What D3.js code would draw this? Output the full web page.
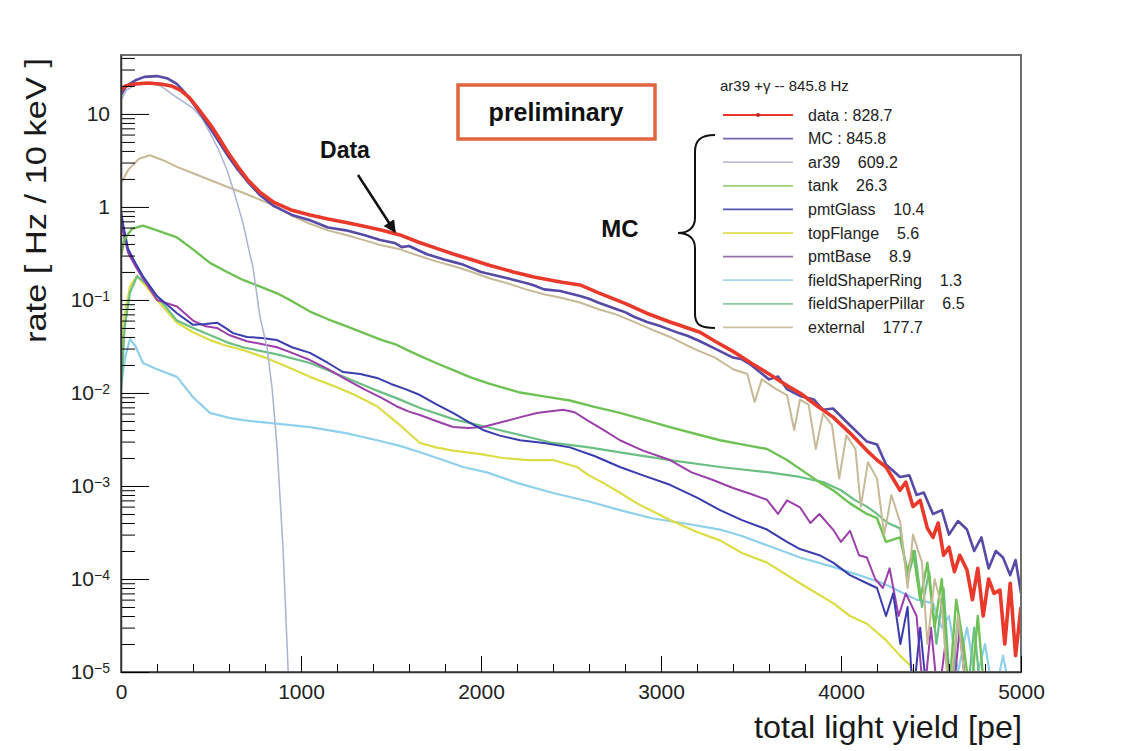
<!DOCTYPE html>
<html lang="en">
<head>
  <meta charset="UTF-8" />
  <script src="https://d3js.org/d3.v7.min.js"></script>
  <title>total light yield spectrum</title>
  <style>
    body { margin: 0; background: #fff; }
    text { font-family: "Liberation Sans", Arial, Helvetica, sans-serif; }
  </style>
</head>
<body>
  <div id="chart"></div>
  <script>
    // [pe, rate in Hz / 10 keV]
    const dataHist = [[0,18],[25,20],[75,21],[150,21.5],[220,21],[280,20],[330,18],[380,15],[420,12],[460,9.5],[500,7.5],[550,5.3],[600,3.7],[650,2.7],[700,2.0],[770,1.45],[850,1.12],[950,0.92],[1050,0.82],[1150,0.74],[1250,0.68],[1350,0.62],[1450,0.56],[1550,0.5],[1650,0.42],[1770,0.35],[1850,0.31],[1950,0.27],[2050,0.235],[2180,0.2],[2300,0.175],[2450,0.155],[2550,0.145],[2650,0.12],[2800,0.092],[2920,0.072],[3050,0.058],[3217,0.045],[3300,0.036],[3400,0.028],[3500,0.021],[3600,0.016],[3700,0.012],[3772,0.01],[3870,0.0072],[3956,0.0055],[4050,0.0037],[4144,0.0024],[4200,0.0019],[4250,0.0016],[4328,0.0009],[4360,0.0011],[4400,0.0006],[4440,0.0007],[4480,0.00035],[4511,0.00028],[4540,0.0004],[4570,0.00018],[4600,0.00022],[4630,0.00012],[4660,0.00018],[4700,0.000125],[4730,0.00006],[4760,0.00013],[4790,0.00004],[4820,0.0001],[4850,0.00007],[4883,0.000076],[4910,0.00002],[4940,0.00009],[4970,0.000015],[5000,0.00005]];
    const mcTotal = [[0,16],[30,20],[80,23],[130,25],[200,25.5],[260,24],[310,21],[360,16.5],[400,13],[450,9.5],[500,6.8],[550,4.8],[600,3.4],[650,2.5],[700,1.9],[770,1.35],[850,1.02],[950,0.82],[1050,0.72],[1150,0.6],[1250,0.56],[1350,0.5],[1440,0.44],[1520,0.41],[1560,0.37],[1600,0.38],[1700,0.31],[1800,0.27],[1850,0.255],[1900,0.24],[2000,0.2],[2100,0.18],[2178,0.165],[2260,0.15],[2300,0.142],[2350,0.13],[2440,0.125],[2550,0.11],[2600,0.103],[2650,0.094],[2750,0.08],[2800,0.074],[2850,0.066],[2922,0.058],[3000,0.052],[3100,0.044],[3150,0.041],[3217,0.036],[3300,0.03],[3400,0.024],[3450,0.023],[3500,0.02],[3600,0.014],[3650,0.015],[3700,0.011],[3772,0.0093],[3850,0.0085],[3900,0.0066],[3956,0.0068],[4050,0.0045],[4144,0.003],[4200,0.0028],[4250,0.0017],[4328,0.00125],[4380,0.0013],[4420,0.0008],[4460,0.00085],[4511,0.0005],[4560,0.00055],[4600,0.0003],[4650,0.00042],[4700,0.00034],[4740,0.0002],[4780,0.00028],[4820,0.00013],[4860,0.0002],[4900,0.00017],[4940,0.00011],[4970,0.00016],[5000,0.00007]];
    const ar39 = [[0,14],[30,18],[80,20.5],[150,21.5],[220,20],[311,15],[360,13],[400,11.5],[450,9],[494,6.3],[540,4.2],[589,2.5],[630,1.4],[678,0.67],[710,0.35],[733,0.226],[772,0.066],[811,0.031],[840,0.011],[867,0.0026],[900,0.00022],[928,0.000011],[935,0.000005]];
    const tank = [[0,0.3],[20,0.45],[60,0.58],[122,0.63],[200,0.56],[311,0.47],[400,0.35],[494,0.25],[589,0.2],[678,0.164],[770,0.14],[867,0.118],[950,0.097],[1050,0.075],[1150,0.062],[1233,0.054],[1350,0.044],[1450,0.037],[1530,0.033],[1606,0.028],[1661,0.025],[1750,0.021],[1850,0.0175],[1939,0.0148],[2050,0.0125],[2217,0.0101],[2350,0.0092],[2494,0.0083],[2630,0.0071],[2772,0.0061],[2900,0.0052],[3050,0.0043],[3200,0.0036],[3328,0.0031],[3450,0.0028],[3589,0.0025],[3700,0.0019],[3800,0.0014],[3880,0.0011],[3956,0.0009],[4050,0.00065],[4144,0.0005],[4200,0.00045],[4250,0.00025],[4328,0.00028],[4370,0.00012],[4400,0.0002],[4440,0.00006],[4480,0.00015],[4520,0.00003],[4560,0.0001],[4600,0.000006],[4640,0.00006],[4680,0.00002],[4720,0.000005],[4760,0.00004],[4800,0.000005]];
    const pmtGlass = [[0,0.9],[15,0.6],[40,0.35],[80,0.25],[122,0.18],[200,0.11],[311,0.072],[400,0.054],[470,0.055],[533,0.057],[580,0.05],[622,0.044],[700,0.04],[780,0.039],[867,0.037],[950,0.031],[1050,0.027],[1150,0.021],[1233,0.0168],[1330,0.016],[1422,0.0145],[1500,0.0125],[1580,0.011],[1661,0.0095],[1750,0.0076],[1844,0.0061],[1930,0.0049],[2011,0.004],[2100,0.0035],[2217,0.0031],[2350,0.0029],[2494,0.0026],[2630,0.0021],[2772,0.0016],[2900,0.0013],[3050,0.00103],[3200,0.00075],[3328,0.00055],[3450,0.00043],[3589,0.00034],[3700,0.00025],[3772,0.00021],[3880,0.00018],[3956,0.00015],[4050,0.00011],[4144,0.00009],[4200,0.00008],[4250,0.00004],[4290,0.00007],[4330,0.00002],[4370,0.00005],[4400,0.000005],[4440,0.00003],[4480,0.000005]];
    const topFlange = [[0,0.02],[20,0.07],[50,0.14],[89,0.18],[140,0.14],[200,0.1],[311,0.057],[400,0.045],[494,0.037],[589,0.032],[678,0.029],[800,0.024],[900,0.02],[1050,0.0149],[1200,0.0115],[1300,0.0095],[1422,0.0072],[1550,0.0045],[1661,0.0029],[1750,0.0026],[1844,0.0024],[2000,0.0022],[2122,0.002],[2260,0.0019],[2400,0.0019],[2533,0.0016],[2600,0.0013],[2678,0.00108],[2770,0.00085],[2867,0.00065],[3050,0.00043],[3200,0.00032],[3328,0.00026],[3450,0.00019],[3589,0.00015],[3772,0.00009],[3956,0.000055],[4050,0.00004],[4144,0.000033],[4250,0.000022],[4328,0.000015],[4380,0.000012],[4420,0.000008]];
    const pmtBase = [[0,0.7],[15,0.5],[40,0.32],[80,0.23],[122,0.17],[200,0.1],[311,0.085],[400,0.06],[470,0.052],[533,0.05],[600,0.042],[700,0.036],[800,0.033],[867,0.031],[950,0.027],[1050,0.0226],[1150,0.018],[1250,0.014],[1350,0.011],[1450,0.0088],[1530,0.0072],[1600,0.0063],[1661,0.0058],[1750,0.005],[1844,0.0043],[1930,0.0042],[2011,0.0043],[2122,0.0049],[2220,0.0055],[2311,0.0061],[2400,0.0064],[2456,0.0066],[2520,0.0062],[2589,0.0051],[2680,0.004],[2772,0.0031],[2900,0.0024],[3050,0.0019],[3170,0.0014],[3289,0.00116],[3400,0.00095],[3500,0.00082],[3589,0.00071],[3650,0.0005],[3700,0.0007],[3772,0.00059],[3830,0.0004],[3880,0.0005],[3956,0.00034],[4000,0.00025],[4050,0.00033],[4100,0.00018],[4144,0.00017],[4190,0.0001],[4233,0.00008],[4270,0.00013],[4320,0.00004],[4360,0.00007],[4420,0.00004],[4460,0.000005],[4500,0.00003],[4540,0.000005],[4580,0.00002],[4620,0.000005],[4660,0.00003],[4700,0.000005]];
    const fieldShaperRing = [[0,0.012],[25,0.025],[50,0.038],[80,0.032],[122,0.021],[200,0.018],[311,0.0149],[400,0.009],[494,0.0061],[600,0.0054],[678,0.0051],[850,0.0047],[1050,0.0043],[1250,0.0037],[1422,0.0031],[1550,0.0027],[1661,0.0023],[1789,0.0019],[1900,0.0016],[2033,0.0014],[2200,0.00108],[2400,0.00084],[2600,0.00068],[2772,0.00055],[2950,0.00045],[3150,0.00039],[3328,0.00034],[3450,0.00029],[3589,0.00023],[3772,0.00017],[3956,0.000135],[4100,0.00011],[4233,0.00009],[4350,0.00007],[4420,0.00006],[4511,0.000055],[4560,0.00003],[4600,0.00004],[4650,0.00001],[4700,0.00003],[4750,0.000008],[4800,0.00002],[4850,0.000005],[4900,0.000015],[4950,0.000005],[5000,0.00001]];
    const fieldShaperPillar = [[0,0.01],[20,0.05],[50,0.12],[89,0.18],[140,0.15],[200,0.11],[311,0.06],[400,0.05],[494,0.042],[589,0.035],[678,0.031],[867,0.026],[1050,0.021],[1200,0.016],[1400,0.011],[1530,0.0088],[1661,0.0069],[1850,0.0052],[2033,0.0043],[2200,0.0036],[2400,0.0029],[2600,0.0026],[2772,0.0023],[3050,0.0019],[3328,0.0016],[3600,0.0014],[3772,0.00125],[3900,0.0011],[4000,0.0009],[4080,0.0007],[4144,0.0006],[4200,0.0005],[4260,0.0004],[4328,0.00035],[4370,0.0001],[4410,0.0002],[4450,0.00005],[4490,0.00012],[4530,0.00002],[4570,0.00008],[4610,0.000005],[4650,0.00004],[4700,0.000005],[4740,0.00003],[4780,0.000005]];
    const external = [[0,1.8],[40,2.5],[100,3.3],[160,3.6],[230,3.2],[311,2.7],[400,2.3],[494,1.95],[589,1.65],[678,1.42],[770,1.2],[867,1.0],[950,0.8],[1050,0.66],[1150,0.56],[1250,0.5],[1350,0.44],[1440,0.39],[1550,0.35],[1650,0.3],[1750,0.26],[1850,0.23],[1950,0.2],[2050,0.17],[2150,0.15],[2250,0.13],[2350,0.115],[2450,0.105],[2550,0.094],[2650,0.08],[2750,0.07],[2850,0.058],[2950,0.048],[3050,0.04],[3150,0.032],[3217,0.028],[3300,0.024],[3400,0.018],[3480,0.016],[3520,0.008],[3560,0.014],[3640,0.011],[3700,0.0095],[3740,0.004],[3772,0.0085],[3820,0.0075],[3860,0.0025],[3900,0.006],[3950,0.0045],[3990,0.0012],[4030,0.0035],[4080,0.0025],[4110,0.0006],[4150,0.0018],[4200,0.0012],[4240,0.0003],[4280,0.0008],[4330,0.0004],[4370,0.00008],[4400,0.0003],[4450,0.00015],[4480,0.00002],[4520,0.0001],[4560,0.00005],[4600,0.000005],[4650,0.00004],[4700,0.000005]];

    const legendTitle = "ar39 +\u03b3 -- 845.8 Hz";
    const legendLabels = ["data : 828.7", "MC : 845.8", "ar39    609.2", "tank    26.3", "pmtGlass    10.4",
      "topFlange    5.6", "pmtBase    8.9", "fieldShaperRing    1.3", "fieldShaperPillar    6.5", "external    177.7"];
    const xTicks = [0, 1000, 2000, 3000, 4000, 5000];
    const yExponents = [-5, -4, -3, -2, -1, 0, 1];

    const width = 1126, height = 751;
    const margin = { top: 55, right: 105, bottom: 79, left: 121 };

    const svg = d3.select("#chart").append("svg")
      .attr("width", width)
      .attr("height", height);

    const x = d3.scaleLinear().domain([0, 5000]).range([margin.left, width - margin.right]);
    const y = d3.scaleLog().domain([1e-5, 43]).range([height - margin.bottom, margin.top]);

    svg.append("defs").append("clipPath").attr("id", "plot")
      .append("rect")
      .attr("x", margin.left).attr("y", margin.top)
      .attr("width", width - margin.left - margin.right)
      .attr("height", height - margin.top - margin.bottom);

    // series, back to front
    const series = [
      { pts: fieldShaperRing, color: "#8fd0ea", w: 2.2 },
      { pts: topFlange, color: "#dcdc46", w: 2.2 },
      { pts: fieldShaperPillar, color: "#6cbf84", w: 2.2 },
      { pts: pmtBase, color: "#9b3faa", w: 2 },
      { pts: pmtGlass, color: "#3a3cae", w: 2 },
      { pts: tank, color: "#6fc153", w: 2.4 },
      { pts: external, color: "#c6b996", w: 2 },
      { pts: ar39, color: "#a9b3d2", w: 1.5 },
      { pts: mcTotal, color: "#554aa6", w: 2.6 },
      { pts: dataHist, color: "#e8392a", w: 3.6 }
    ];

    const line = d3.line()
      .x(d => x(d[0]))
      .y(d => y(d[1]));

    const plot = svg.append("g").attr("clip-path", "url(#plot)");
    plot.selectAll("path")
      .data(series)
      .enter()
      .append("path")
      .attr("fill", "none")
      .attr("stroke", d => d.color)
      .attr("stroke-width", d => d.w)
      .attr("stroke-linejoin", "round")
      .attr("d", d => line(d.pts));

    // frame
    svg.append("rect")
      .attr("x", margin.left).attr("y", margin.top)
      .attr("width", width - margin.left - margin.right)
      .attr("height", height - margin.top - margin.bottom)
      .attr("fill", "none")
      .attr("stroke", "#6e6e6e")
      .attr("stroke-width", 2);

    // x axis
    const xMinor = d3.range(0, 5001, 200).filter(v => v % 1000 !== 0);
    svg.append("g")
      .attr("transform", `translate(0,${height - margin.bottom})`)
      .call(d3.axisBottom(x).tickValues(xMinor).tickSize(-8).tickFormat(""))
      .call(g => g.select(".domain").remove());
    const gx = svg.append("g")
      .attr("transform", `translate(0,${height - margin.bottom})`)
      .call(d3.axisBottom(x).tickValues(xTicks).tickSize(-16).tickPadding(12).tickSizeOuter(0).tickFormat(d3.format("d")));
    gx.select(".domain").attr("stroke", "#333").attr("stroke-width", 1.5);
    gx.selectAll("text").attr("font-size", 21).attr("fill", "#222")
      .attr("font-family", "'Liberation Sans', Arial, sans-serif");

    // y axis
    const yMinor = [];
    yExponents.forEach(e => {
      for (let m = 2; m <= 9; m++) {
        const v = m * Math.pow(10, e);
        if (v <= 43) yMinor.push(v);
      }
    });
    svg.append("g")
      .attr("transform", `translate(${margin.left},0)`)
      .call(d3.axisLeft(y).tickValues(yMinor).tickSize(-14).tickFormat(""))
      .call(g => g.select(".domain").remove());
    const gy = svg.append("g")
      .attr("transform", `translate(${margin.left},0)`)
      .call(d3.axisLeft(y).tickValues(yExponents.map(e => Math.pow(10, e))).tickSize(-28).tickPadding(11).tickSizeOuter(0).tickFormat(""));
    gy.select(".domain").attr("stroke", "#333").attr("stroke-width", 1.5);
    gy.selectAll(".tick text").each(function (d) {
      const e = Math.round(Math.log10(d));
      const t = d3.select(this)
        .attr("font-size", 21).attr("fill", "#222")
        .attr("font-family", "'Liberation Sans', Arial, sans-serif");
      if (e === 0) t.text("1");
      else if (e === 1) t.text("10");
      else {
        t.text("10");
        t.append("tspan").attr("dy", "-0.45em").attr("font-size", 14).text("\u2212" + (-e));
      }
    });

    // axis titles
    svg.append("text")
      .attr("x", width - margin.right + 1)
      .attr("y", 738)
      .attr("text-anchor", "end")
      .attr("font-size", 32)
      .attr("textLength", 268)
      .attr("lengthAdjust", "spacingAndGlyphs")
      .attr("fill", "#1a1a1a")
      .text("total light yield [pe]");

    svg.append("text")
      .attr("transform", "translate(46,58) rotate(-90)")
      .attr("text-anchor", "end")
      .attr("font-size", 29)
      .attr("textLength", 285)
      .attr("lengthAdjust", "spacingAndGlyphs")
      .attr("fill", "#1a1a1a")
      .text("rate [ Hz / 10 keV ]");

    // legend
    const legend = svg.append("g");
    legend.append("text")
      .attr("x", 720).attr("y", 91)
      .attr("font-size", 15).attr("fill", "#222")
      .text(legendTitle);
    const legendColors = ["#e8392a", "#7469ab", "#bfc0df", "#9ccf80", "#5556b2", "#e2e268", "#9870aa", "#a6d8ea", "#8fc9a6", "#c8c0a0"];
    legendLabels.forEach((lab, i) => {
      const cy = 115 + i * 23.6;
      legend.append("line")
        .attr("x1", 723).attr("x2", 793)
        .attr("y1", cy).attr("y2", cy)
        .attr("stroke", legendColors[i])
        .attr("stroke-width", i === 0 ? 2 : 1.8);
      legend.append("text")
        .attr("x", 808).attr("y", cy + 5.5)
        .attr("font-size", 16).attr("fill", "#222")
        .style("white-space", "pre")
        .text(lab);
    });
    legend.append("circle").attr("cx", 758).attr("cy", 115).attr("r", 2).attr("fill", "#c02a1e");

    // annotations
    svg.append("rect")
      .attr("x", 458).attr("y", 85)
      .attr("width", 197).attr("height", 54)
      .attr("fill", "#fff")
      .attr("stroke", "#e0643c")
      .attr("stroke-width", 3.5);
    svg.append("text")
      .attr("x", 556).attr("y", 121)
      .attr("text-anchor", "middle")
      .attr("font-size", 25).attr("font-weight", "bold").attr("fill", "#111")
      .text("preliminary");

    svg.append("text")
      .attr("x", 345).attr("y", 158)
      .attr("text-anchor", "middle")
      .attr("font-size", 23).attr("font-weight", "bold").attr("fill", "#111")
      .text("Data");

    svg.append("defs").append("marker")
      .attr("id", "arrow")
      .attr("viewBox", "0 0 10 10")
      .attr("refX", 9).attr("refY", 5)
      .attr("markerWidth", 5).attr("markerHeight", 5)
      .attr("orient", "auto")
      .append("path").attr("d", "M0,0 L10,5 L0,10 z").attr("fill", "#111");
    svg.append("line")
      .attr("x1", 358).attr("y1", 175)
      .attr("x2", 395).attr("y2", 232)
      .attr("stroke", "#111").attr("stroke-width", 2.5)
      .attr("marker-end", "url(#arrow)");

    svg.append("text")
      .attr("x", 620).attr("y", 237)
      .attr("text-anchor", "middle")
      .attr("font-size", 24).attr("font-weight", "bold").attr("fill", "#111")
      .text("MC");

    svg.append("path")
      .attr("d", "M715,135 C701,135 695,140 695,152 L695,218 C695,228 688,233 678,233 C688,233 695,238 695,248 L695,314 C695,325 701,328 715,328")
      .attr("fill", "none")
      .attr("stroke", "#111")
      .attr("stroke-width", 2);
  </script>
</body>
</html>
